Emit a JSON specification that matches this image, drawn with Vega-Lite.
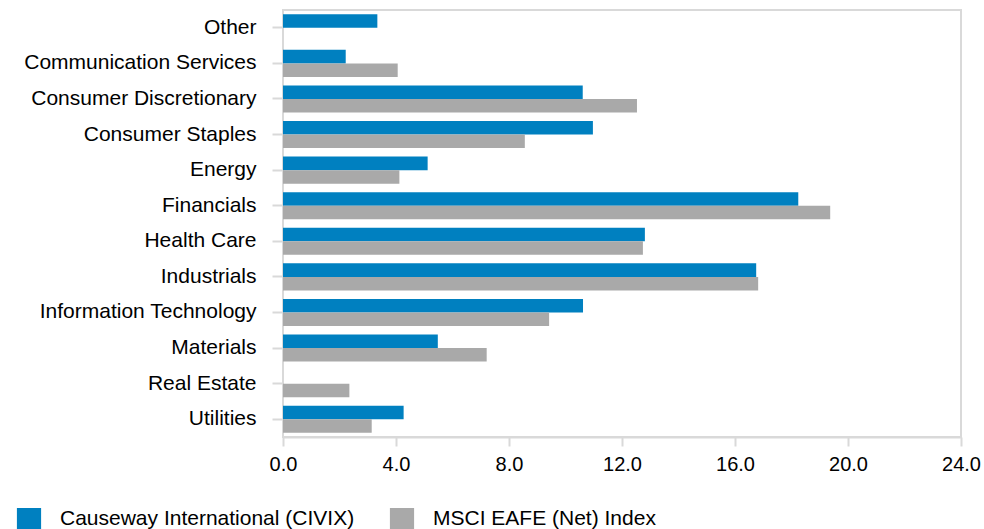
{
  "$schema": "https://vega.github.io/schema/vega-lite/v6.json",
  "width": 678,
  "height": 427,
  "autosize": "none",
  "padding": {"left": 283, "top": 10, "right": 23, "bottom": 92},
  "data": {
    "values": [
      {"sector": "Other", "series": "Causeway International (CIVIX)", "weight": 3.34},
      {"sector": "Communication Services", "series": "Causeway International (CIVIX)", "weight": 2.22},
      {"sector": "Communication Services", "series": "MSCI EAFE (Net) Index", "weight": 4.06},
      {"sector": "Consumer Discretionary", "series": "Causeway International (CIVIX)", "weight": 10.61},
      {"sector": "Consumer Discretionary", "series": "MSCI EAFE (Net) Index", "weight": 12.53},
      {"sector": "Consumer Staples", "series": "Causeway International (CIVIX)", "weight": 10.97},
      {"sector": "Consumer Staples", "series": "MSCI EAFE (Net) Index", "weight": 8.56},
      {"sector": "Energy", "series": "Causeway International (CIVIX)", "weight": 5.12},
      {"sector": "Energy", "series": "MSCI EAFE (Net) Index", "weight": 4.12},
      {"sector": "Financials", "series": "Causeway International (CIVIX)", "weight": 18.24},
      {"sector": "Financials", "series": "MSCI EAFE (Net) Index", "weight": 19.37},
      {"sector": "Health Care", "series": "Causeway International (CIVIX)", "weight": 12.81},
      {"sector": "Health Care", "series": "MSCI EAFE (Net) Index", "weight": 12.74},
      {"sector": "Industrials", "series": "Causeway International (CIVIX)", "weight": 16.75},
      {"sector": "Industrials", "series": "MSCI EAFE (Net) Index", "weight": 16.82},
      {"sector": "Information Technology", "series": "Causeway International (CIVIX)", "weight": 10.62},
      {"sector": "Information Technology", "series": "MSCI EAFE (Net) Index", "weight": 9.42},
      {"sector": "Materials", "series": "Causeway International (CIVIX)", "weight": 5.48},
      {"sector": "Materials", "series": "MSCI EAFE (Net) Index", "weight": 7.21},
      {"sector": "Real Estate", "series": "MSCI EAFE (Net) Index", "weight": 2.35},
      {"sector": "Utilities", "series": "Causeway International (CIVIX)", "weight": 4.27},
      {"sector": "Utilities", "series": "MSCI EAFE (Net) Index", "weight": 3.14}
    ]
  },
  "mark": {"type": "bar"},
  "encoding": {
    "y": {
      "field": "sector",
      "type": "nominal",
      "sort": null,
      "title": null,
      "scale": {"paddingInner": 0.24, "paddingOuter": 0.12},
      "axis": {
        "domain": false,
        "ticks": true,
        "tickSize": 11,
        "tickWidth": 2,
        "tickColor": "#d9d9d9",
        "labelFontSize": 21,
        "labelColor": "#000000",
        "labelPadding": 16,
        "labelLimit": 300
      }
    },
    "yOffset": {
      "field": "series",
      "type": "nominal",
      "sort": null,
      "scale": {"paddingInner": 0, "paddingOuter": 0}
    },
    "x": {
      "field": "weight",
      "type": "quantitative",
      "title": null,
      "scale": {"domain": [0, 24], "nice": false},
      "axis": {
        "values": [0, 4, 8, 12, 16, 20, 24],
        "format": ".1f",
        "grid": false,
        "domainColor": "#d9d9d9",
        "domainWidth": 2,
        "tickColor": "#d9d9d9",
        "tickWidth": 2,
        "tickSize": 9,
        "labelFontSize": 20,
        "labelColor": "#000000",
        "labelPadding": 8,
        "labelFlush": false
      }
    },
    "color": {
      "field": "series",
      "type": "nominal",
      "sort": null,
      "scale": {
        "domain": ["Causeway International (CIVIX)", "MSCI EAFE (Net) Index"],
        "range": ["#0080c0", "#a9a9a9"]
      },
      "legend": {
        "title": null,
        "orient": "none",
        "direction": "horizontal",
        "legendX": -265,
        "legendY": 498,
        "symbolType": "M-1.1,-1H1.1V1H-1.1Z",
        "symbolSize": 484,
        "symbolStrokeWidth": 0,
        "labelFontSize": 21,
        "labelColor": "#000000",
        "labelOffset": 20,
        "labelLimit": 400,
        "columnPadding": 34
      }
    }
  },
  "config": {
    "font": "Liberation Sans",
    "view": {"stroke": "#d9d9d9", "strokeWidth": 2}
  }
}
